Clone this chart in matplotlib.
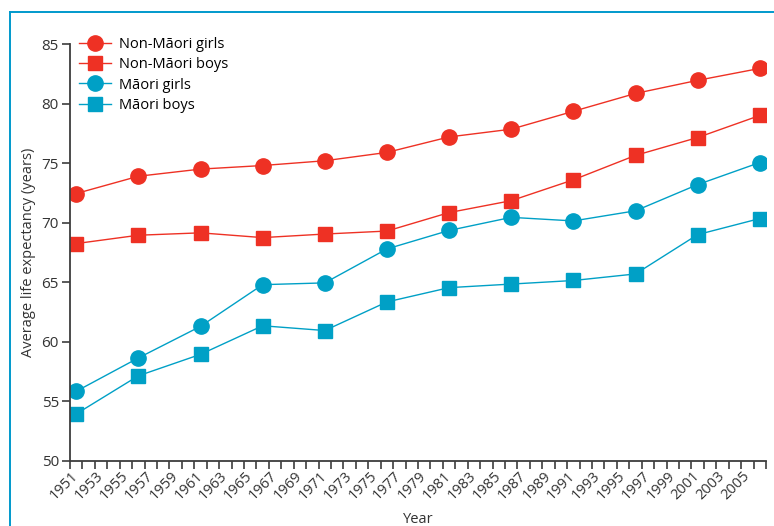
import numpy as np
import matplotlib.pyplot as plt
from matplotlib.lines import Line2D
from matplotlib.ticker import MultipleLocator

# data
years = [1951, 1956, 1961, 1966, 1971, 1976, 1981, 1986, 1991, 1996, 2001, 2006]
non_maori_girls = [72.45, 73.9, 74.5, 74.8, 75.2, 75.9, 77.2, 77.85, 79.35, 80.85, 81.95, 82.95]
non_maori_boys = [68.25, 68.95, 69.15, 68.75, 69.05, 69.3, 70.85, 71.85, 73.6, 75.65, 77.15, 79.0]
maori_girls = [55.85, 58.65, 61.3, 64.8, 64.95, 67.8, 69.35, 70.45, 70.15, 71.0, 73.2, 75.05]
maori_boys = [53.95, 57.15, 58.95, 61.35, 60.95, 63.35, 64.55, 64.85, 65.15, 65.7, 69.0, 70.35]
tick_years = list(range(1951, 2006, 2))

red = '#EE3124'
blue = '#00A0C6'
dark = '#3d3d3d'

plt.rcParams['font.family'] = ['Open Sans', 'DejaVu Sans']

fig = plt.figure(figsize=(7.74, 5.26), dpi=100)
ax = fig.add_axes([70/774, 1 - 461/526, (766 - 70)/774, (461 - 44)/526])

ax.plot(years, non_maori_girls, color=red, marker='o', ms=11, lw=1.0, label='Non-Māori girls')
ax.plot(years, non_maori_boys, color=red, marker='s', ms=9.5, lw=1.0, label='Non-Māori boys')
ax.plot(years, maori_girls, color=blue, marker='o', ms=11, lw=1.0, label='Māori girls')
ax.plot(years, maori_boys, color=blue, marker='s', ms=9.5, lw=1.0, label='Māori boys')

ax.set_xlim(1950.5, 2006.5)
ax.set_ylim(50, 85)
ax.set_yticks(range(50, 86, 5))
ax.set_xticks(tick_years)
ax.set_xticklabels([str(y) for y in tick_years], rotation=45, ha='right',
                   rotation_mode='anchor', va='center')
ax.xaxis.set_minor_locator(MultipleLocator(1, offset=0.5))
ax.tick_params(axis='x', which='major', length=0, pad=9, labelsize=10.5, labelcolor='#333333')
ax.tick_params(axis='x', which='minor', length=6, width=1.2, color=dark)
ax.tick_params(axis='y', length=6, width=1.2, color=dark, labelsize=11, labelcolor='#333333', pad=2)

for s in ['top', 'right']:
    ax.spines[s].set_visible(False)
for s in ['left', 'bottom']:
    ax.spines[s].set_color(dark)
    ax.spines[s].set_linewidth(1.3)

ax.set_xlabel('Year', fontsize=10.5, color='#333333', labelpad=7)
ax.set_ylabel('Average life expectancy (years)', fontsize=10.5, color='#333333', labelpad=4)

ax.legend(loc='upper left', bbox_to_anchor=(0.005, 1.03), frameon=False, fontsize=10.5,
          handlelength=2.2, labelspacing=0.35, handletextpad=0.5, borderaxespad=0)

# thin blue frame round the panel
fig.add_artist(Line2D([10/774, 1], [1 - 12/526, 1 - 12/526], color='#0099CC', lw=1.4))
fig.add_artist(Line2D([10/774, 10/774], [0, 1 - 12/526], color='#0099CC', lw=1.4))

fig.savefig('out.png', dpi=100)
